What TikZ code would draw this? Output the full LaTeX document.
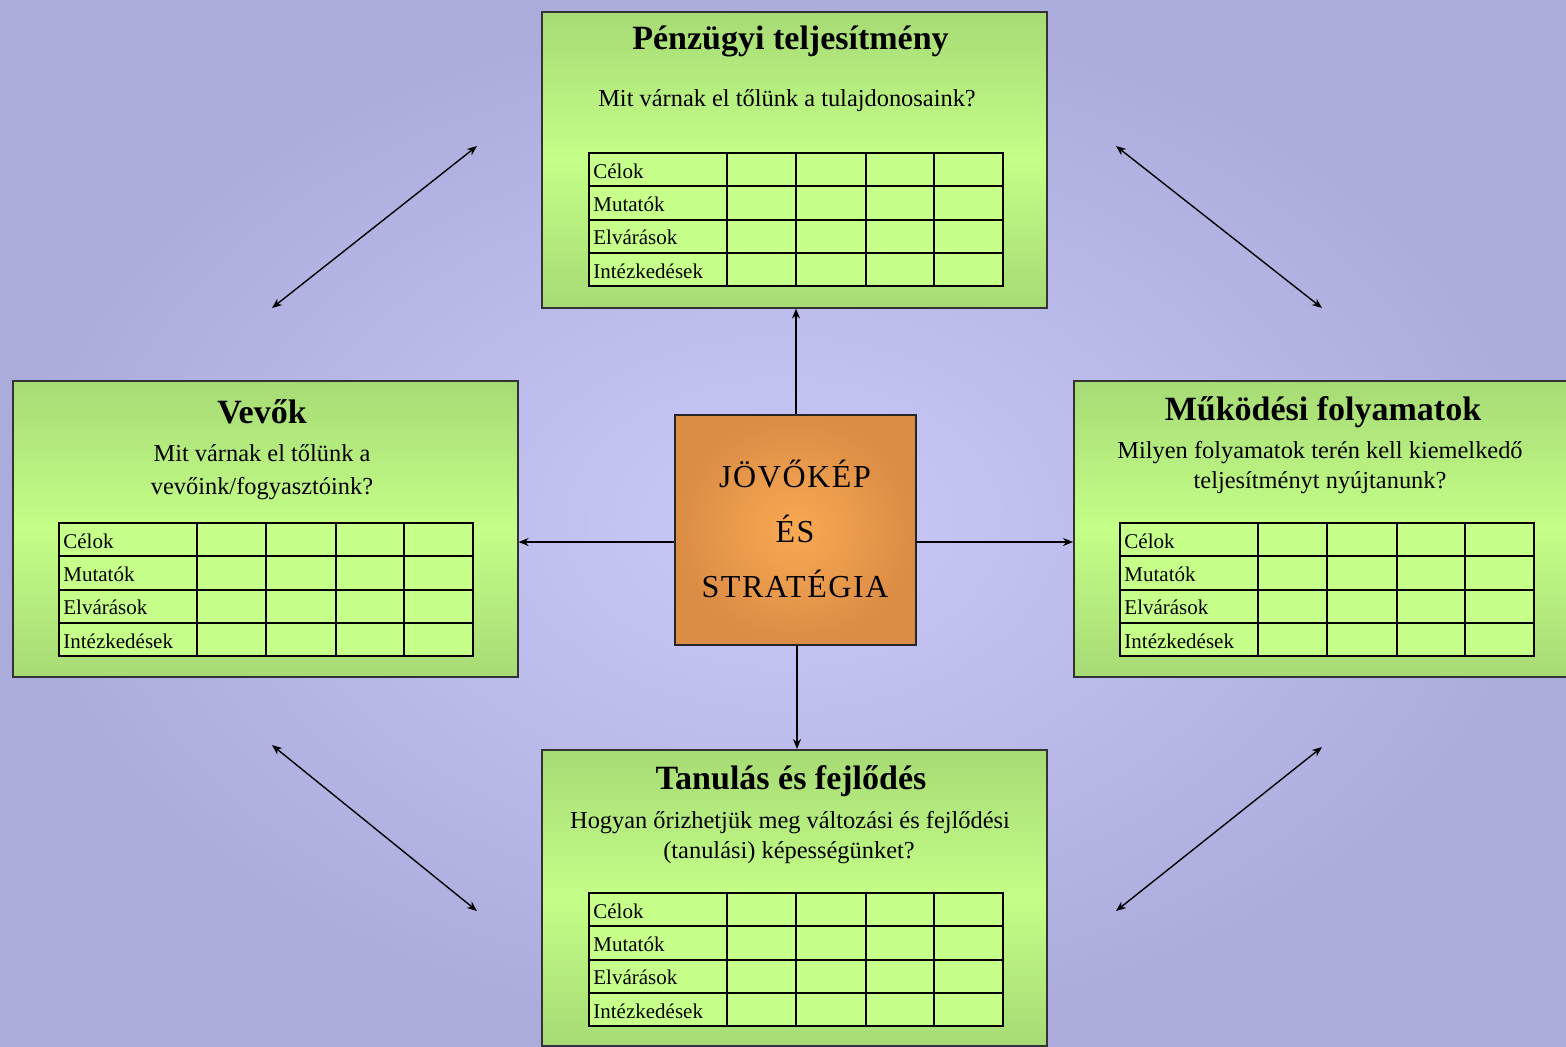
\documentclass[tikz,border=0pt]{standalone}
\usepackage{fontspec}
\setmainfont{Liberation Serif}
\newfontfamily\ctrfont[LetterSpace=5]{Liberation Serif}
\usetikzlibrary{arrows.meta}
\definecolor{bgin}{HTML}{CACAFA}
\definecolor{bgout}{HTML}{ACACDC}
\definecolor{gdark}{HTML}{A7DA75}
\definecolor{glight}{HTML}{C4FF88}
\definecolor{tabfill}{HTML}{C6FF8A}
\definecolor{oin}{HTML}{F9A952}
\definecolor{oout}{HTML}{DB8C45}
\tikzset{
  panel/.style={rectangle, draw=black!80, line width=0.8pt, top color=gdark, bottom color=gdark, middle color=glight, inner sep=0pt, anchor=north west, minimum width=252.5pt, minimum height=148pt},
  core/.style={rectangle, draw=black!85, line width=0.8pt, inner color=oin, outer color=oout, inner sep=0pt, anchor=north west, minimum width=120.5pt, minimum height=115pt},
  ttl/.style={inner sep=0pt, font=\fontsize{17}{20}\selectfont\bfseries},
  sub/.style={inner sep=0pt, font=\fontsize{12.2}{14}\selectfont},
  lab/.style={inner sep=0pt, anchor=west, font=\fontsize{10.5}{12}\selectfont},
  ctrtxt/.style={inner sep=0pt, font=\fontsize{16}{18}\selectfont\ctrfont},
  tabline/.style={draw=black, line width=1pt},
  conn/.style={line width=0.7pt, -{Stealth[length=5pt,width=4pt]}},
  dconn/.style={line width=0.7pt, {Stealth[length=5pt,width=4pt]}-{Stealth[length=5pt,width=4pt]}}
}
\newcommand\bsctab[3]{%
  \begin{scope}[shift={(#2,#3)}]
    \fill[tabfill] (0,0) rectangle (414,133);
    \foreach \cc in {138,207,277,345} \draw[tabline] (\cc,0) -- (\cc,133);
    \foreach \rr in {33.25,66.5,99.75} \draw[tabline] (0,\rr) -- (414,\rr);
    \draw[tabline] (0,0) rectangle (414,133);
    \node[lab] (#1-a) at (4,18) {Célok};
    \node[lab] (#1-b) at (4,51) {Mutatók};
    \node[lab] (#1-c) at (4,84) {Elvárások};
    \node[lab] (#1-d) at (4,118) {Intézkedések};
  \end{scope}}
\begin{document}
\begin{tikzpicture}[x=0.5pt, y=-0.5pt]
\useasboundingbox (0,0) rectangle (1566,1046);
\clip (0,0) rectangle (1566,1046);
\shade[inner color=bgin, outer color=bgout] (0,0) rectangle (1566,1046);

% panels
\node[panel] (top) at (541,11) {};
\node[panel] (left) at (12,380) {};
\node[panel] (right) at (1073,380) {};
\node[panel] (bot) at (541,749) {};
\node[core] (ctr) at (674,414) {};

% texts top
\node[ttl] (top-t) at (790.5,41) {Pénzügyi teljesítmény};
\node[sub] (top-s) at (787,101) {Mit várnak el tőlünk a tulajdonosaink?};
\bsctab{toptab}{589}{153}

% texts left
\node[ttl] (left-t) at (262,412) {Vevők};
\node[sub] (left-s1) at (262,453) {Mit várnak el tőlünk a};
\node[sub] (left-s2) at (262,489) {vevőink/fogyasztóink?};
\bsctab{lefttab}{59}{523}

% texts right
\node[ttl] (right-t) at (1323,412) {Működési folyamatok};
\node[sub] (right-s1) at (1320,453) {Milyen folyamatok terén kell kiemelkedő};
\node[sub] (right-s2) at (1320,483) {teljesítményt nyújtanunk?};
\bsctab{righttab}{1120}{523}

% texts bottom
\node[ttl] (bot-t) at (791,781) {Tanulás és fejlődés};
\node[sub] (bot-s1) at (790,823) {Hogyan őrizhetjük meg változási és fejlődési};
\node[sub] (bot-s2) at (789,853) {(tanulási) képességünket?};
\bsctab{bottab}{589}{893}

% center texts
\node[ctrtxt] (c1) at (795,474) {JÖVŐKÉP};
\node[ctrtxt] (c2) at (795,529) {ÉS};
\node[ctrtxt] (c3) at (795,584) {STRATÉGIA};

% connectors from center
\coordinate (cn) at (796,414);
\coordinate (cl) at (674,542);
\coordinate (cr) at (916,542);
\coordinate (cs) at (797,645);
\draw[conn] (cn) -- (cn |- top.south);
\draw[conn] (cl) -- (cl -| left.east);
\draw[conn] (cr) -- (cr -| right.west);
\draw[conn] (cs) -- (cs |- bot.north);

% diagonal double arrows
\coordinate (d1a) at (272,308); \coordinate (d1b) at (477,146);
\coordinate (d2a) at (1116,146); \coordinate (d2b) at (1322,308);
\coordinate (d3a) at (272,745); \coordinate (d3b) at (477,911);
\coordinate (d4a) at (1116,911); \coordinate (d4b) at (1322,747);
\draw[dconn] (d1a) -- (d1b);
\draw[dconn] (d2a) -- (d2b);
\draw[dconn] (d3a) -- (d3b);
\draw[dconn] (d4a) -- (d4b);
\end{tikzpicture}
\end{document}
